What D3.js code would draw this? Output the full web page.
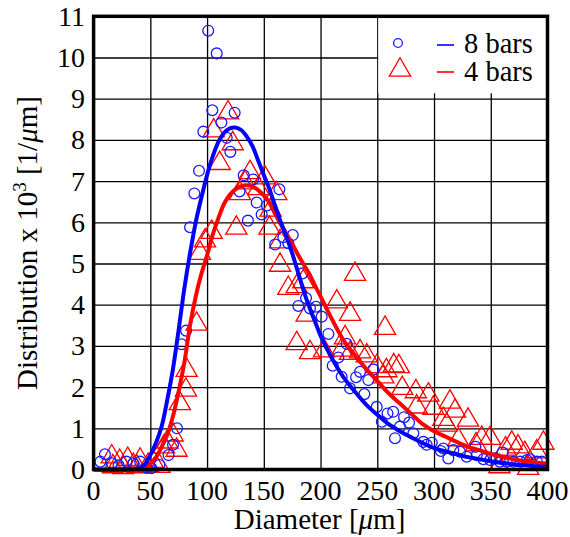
<!DOCTYPE html>
<html>
<head>
<meta charset="utf-8">
<script src="https://cdn.jsdelivr.net/npm/d3@7"></script>
<style>
  body { margin: 0; background: #fff; }
  svg { display: block; }
  text { font-family: "Liberation Serif", "Times New Roman", serif; fill: #000; }
</style>
</head>
<body>
<svg id="chart" width="570" height="537"></svg>
<script>
// ticks
var xTicks = [0, 50, 100, 150, 200, 250, 300, 350, 400];
var yTicks = [0, 1, 2, 3, 4, 5, 6, 7, 8, 9, 10, 11];

// 8 bars - measured points (diameter, distribution)
var bars8D = [6, 10, 16, 22, 29, 35, 41, 47, 51, 58, 66, 70, 73.5, 77.6, 81.5, 85, 88.8, 92.9, 96.7, 101,
  104.6, 108.5, 112.6, 117.3, 120.5, 124.3, 128.6, 132.3, 136, 140.5, 143.7, 148.1, 152.8, 160, 163.7, 167.2,
  171.6, 175.5, 180.4, 184, 187.2, 190.7, 196, 201, 206.9, 210.7, 215.7, 218.6, 223, 226, 231.3, 234.8,
  238.6, 242.1, 246.5, 249.5, 254, 259, 264, 265.6, 270, 273.6, 278, 281.8, 290.6, 293.5, 298, 306, 308.2,
  312.6, 317, 322.9, 328.8, 336.5, 337.7, 343.5, 349.4, 353.8, 358, 360.5, 364, 370, 375.9, 381.8, 384.7,
  390.6, 395];
var bars8V = [0.19, 0.37, 0.15, 0.1, 0.19, 0.15, 0.19, 0.04, 0.03, 0.11, 0.35, 0.6, 1.0, 3.04, 3.37, 5.88, 6.7, 7.25, 8.2, 10.65,
  8.72, 10.1, 8.42, 8.05, 7.71, 8.66, 6.75, 7.14, 6.04, 7.04, 6.48, 6.19, 6.41, 5.46, 6.8, 5.64,
  5.49, 5.69, 3.97, 4.76, 4.16, 3.91, 3.95, 3.71, 3.29, 2.52, 2.72, 2.25, 3.05, 1.97, 2.24, 2.37,
  1.83, 2.17, 2.43, 1.52, 1.16, 1.36, 1.4, 0.76, 1.04, 1.27, 1.14, 0.88, 0.67, 0.6, 0.65, 0.45, 0.51,
  0.27, 0.47, 0.43, 0.31, 0.55, 0.35, 0.25, 0.23, 0.27, 0.19, 0.41, 0.19, 0.19, 0.19, 0.23, 0.25,
  0.19, 0.19];

// 4 bars - measured points
var bars4D = [16, 17, 23, 26, 30, 35, 38, 41, 48, 52, 58, 62, 65, 69.7, 73.2, 76, 81.4, 82, 90.8, 93.8,
  98.2, 104, 105.8, 111.1, 118.5, 122.6, 125.8, 129, 133.4, 137.8, 145.2, 151, 155, 156, 161, 164.3, 164.3,
  171.6, 179, 184.8, 187.8, 179, 190.7, 203, 214.3, 218.6, 221.6, 226, 226, 230.4, 234.8, 240.7, 249.5,
  255.3, 256.8, 258, 264.5, 269, 272, 284, 284.7, 295, 299.4, 308.2, 311.2, 314, 318.5, 321.4, 330, 337,
  342, 349.4, 357.6, 363, 368.5, 374, 380, 383, 390.5, 396.4];
var bars4V = [0.31, 0.07, 0.2, 0.05, 0.25, 0.1, 0.07, 0.23, 0.1, 0.2, 0.08, 0.55, 0.67, 0.84, 0.47, 1.6, 1.93, 2.41, 3.53, 5.25,
  5.55, 5.76, 8.22, 7.43, 8.66, 7.91, 5.86, 6.7, 6.96, 7.21, 6.82, 7.08, 5.86, 6.3, 6.7, 5.53, 4.96,
  4.4, 4.44, 4.56, 3.75, 3.06, 2.84, 2.88, 4.07, 2.9, 3.2, 3.77, 2.82, 4.74, 2.86, 2.76, 2.5,
  2.25, 3.43, 2.4, 2.52, 2.5, 1.97, 1.89, 1.52, 1.81, 1.49, 1.22, 1.08, 1.64, 1.42, 0.72, 1.2, 0.6,
  0.76, 0.76, 0.07, 0.5, 0.64, 0.55, 0.39, 0.03, 0.43, 0.64];

// fitted curves
var fit8D = [0, 30, 40, 45, 50, 55, 60, 65, 70, 75, 80, 85, 90, 95, 100, 105, 110, 115, 120, 125, 130, 135,
  140, 145, 150, 155, 160, 165, 170, 175, 180, 185, 190, 195, 200, 210, 220, 230, 240, 250, 260, 270,
  280, 290, 300, 310, 320, 330, 340, 350, 360, 370, 380, 390, 400];
var fit8V = [0, 0, 0.03, 0.12, 0.35, 0.65, 1.05, 1.7, 2.45, 3.4, 4.4, 5.25, 6.0, 6.6, 7.15, 7.6, 7.95, 8.17, 8.28, 8.3, 8.24, 8.08,
  7.85, 7.5, 7.15, 6.8, 6.4, 6.0, 5.65, 5.25, 4.8, 4.35, 3.95, 3.6, 3.25, 2.7, 2.25, 1.9, 1.58, 1.33, 1.1, 0.93,
  0.78, 0.64, 0.52, 0.44, 0.37, 0.3, 0.25, 0.2, 0.16, 0.13, 0.1, 0.08, 0.06];

var fit4D = [0, 30, 40, 50, 55, 60, 65, 70, 75, 80, 85, 90, 95, 100, 105, 110, 115, 120, 125, 130, 135, 140,
  145, 150, 155, 160, 165, 170, 175, 180, 185, 190, 195, 200, 205, 210, 220, 230, 240, 250, 260, 270, 280,
  290, 300, 310, 320, 330, 340, 350, 360, 370, 380, 390, 400];
var fit4V = [0, 0, 0.02, 0.15, 0.3, 0.55, 0.85, 1.3, 1.9, 2.6, 3.5, 4.2, 4.75, 5.2, 5.7, 6.1, 6.45, 6.67, 6.8, 6.88, 6.9, 6.87,
  6.78, 6.65, 6.47, 6.2, 5.95, 5.72, 5.48, 5.22, 4.98, 4.75, 4.47, 4.2, 3.92, 3.65, 3.15, 2.78, 2.45, 2.15, 1.85, 1.6, 1.35,
  1.1, 0.93, 0.8, 0.67, 0.55, 0.47, 0.38, 0.31, 0.25, 0.2, 0.17, 0.14];

var svg = d3.select("#chart");
var plotL = 93.6, plotR = 547.5, plotT = 16.3, plotB = 469.5;

var x = d3.scaleLinear().domain([0, 400]).range([plotL, plotR]);
var y = d3.scaleLinear().domain([0, 11]).range([plotB, plotT]);

// grid
var grid = svg.append("g");
grid.append("g")
  .attr("transform", "translate(0," + plotB + ")")
  .call(d3.axisBottom(x).tickValues(xTicks).tickSize(-(plotB - plotT)).tickFormat(""))
  .call(g => g.select(".domain").remove())
  .call(g => g.selectAll("line").attr("stroke", "#000").attr("stroke-width", 1.3));
grid.append("g")
  .attr("transform", "translate(" + plotL + ",0)")
  .call(d3.axisLeft(y).tickValues(yTicks).tickSize(-(plotR - plotL)).tickFormat(""))
  .call(g => g.select(".domain").remove())
  .call(g => g.selectAll("line").attr("stroke", "#000").attr("stroke-width", 1.3));

// legend background (covers grid)
svg.append("rect")
  .attr("x", x(250) + 1).attr("y", plotT)
  .attr("width", plotR - x(250) - 1).attr("height", 77)
  .attr("fill", "#fff");

// markers
var tri = d3.symbol().type(d3.symbolTriangle).size(195);

svg.append("g").selectAll("path")
  .data(d3.range(bars4D.length))
  .join("path")
  .attr("d", tri)
  .attr("transform", i => "translate(" + x(bars4D[i]) + "," + y(bars4V[i]) + ")")
  .attr("fill", "none").attr("stroke", "#ff0000").attr("stroke-width", 1.3);

svg.append("g").selectAll("circle")
  .data(d3.range(bars8D.length))
  .join("circle")
  .attr("cx", i => x(bars8D[i]))
  .attr("cy", i => y(bars8V[i]))
  .attr("r", 5.4)
  .attr("fill", "none").attr("stroke", "#1a1aff").attr("stroke-width", 1.3);

// fits
var line = d3.line().curve(d3.curveCatmullRom)
  .x(d => x(d[0])).y(d => y(d[1]));

svg.append("path")
  .datum(fit4D.map((d, i) => [d, fit4V[i]]))
  .attr("d", line)
  .attr("fill", "none").attr("stroke", "#ff0000").attr("stroke-width", 4);

svg.append("path")
  .datum(fit8D.map((d, i) => [d, fit8V[i]]))
  .attr("d", line)
  .attr("fill", "none").attr("stroke", "#0000ff").attr("stroke-width", 4);

// frame
svg.append("rect")
  .attr("x", plotL).attr("y", plotT)
  .attr("width", plotR - plotL).attr("height", plotB - plotT)
  .attr("fill", "none").attr("stroke", "#000").attr("stroke-width", 3.5);

// tick labels
svg.append("g").selectAll("text")
  .data(xTicks).join("text")
  .attr("x", d => x(d)).attr("y", 500)
  .attr("text-anchor", "middle")
  .attr("font-size", 28)
  .text(d => d);

svg.append("g").selectAll("text")
  .data(yTicks).join("text")
  .attr("x", 85).attr("y", d => y(d) + 9.5)
  .attr("text-anchor", "end")
  .attr("font-size", 28)
  .text(d => d);

// axis titles
var xt = svg.append("text")
  .attr("x", (plotL + plotR) / 2 - 1).attr("y", 529)
  .attr("text-anchor", "middle").attr("font-size", 29);
xt.append("tspan").text("Diameter [");
xt.append("tspan").attr("font-style", "italic").text("\u03bc");
xt.append("tspan").text("m]");

var yt = svg.append("text")
  .attr("transform", "translate(37," + 243 + ") rotate(-90)")
  .attr("text-anchor", "middle").attr("font-size", 29);
yt.append("tspan").text("Distribution x 10");
yt.append("tspan").attr("font-size", 19).attr("dy", -11).text("3");
yt.append("tspan").attr("dy", 11).text(" [1/");
yt.append("tspan").attr("font-style", "italic").text("\u03bc");
yt.append("tspan").text("m]");

// legend
var lg = svg.append("g");
lg.append("circle").attr("cx", 398).attr("cy", 43).attr("r", 4.4)
  .attr("fill", "none").attr("stroke", "#1a1aff").attr("stroke-width", 1.3);
lg.append("line").attr("x1", 437).attr("x2", 454).attr("y1", 45).attr("y2", 45)
  .attr("stroke", "#0000ff").attr("stroke-width", 1.6);
lg.append("text").attr("x", 464).attr("y", 53).attr("font-size", 28.5).text("8 bars");

lg.append("path").attr("d", tri).attr("transform", "translate(400,70)")
  .attr("fill", "none").attr("stroke", "#ff0000").attr("stroke-width", 1.3);
lg.append("line").attr("x1", 437).attr("x2", 454).attr("y1", 72).attr("y2", 72)
  .attr("stroke", "#ff0000").attr("stroke-width", 1.6);
lg.append("text").attr("x", 464).attr("y", 81).attr("font-size", 28.5).text("4 bars");
</script>
</body>
</html>
